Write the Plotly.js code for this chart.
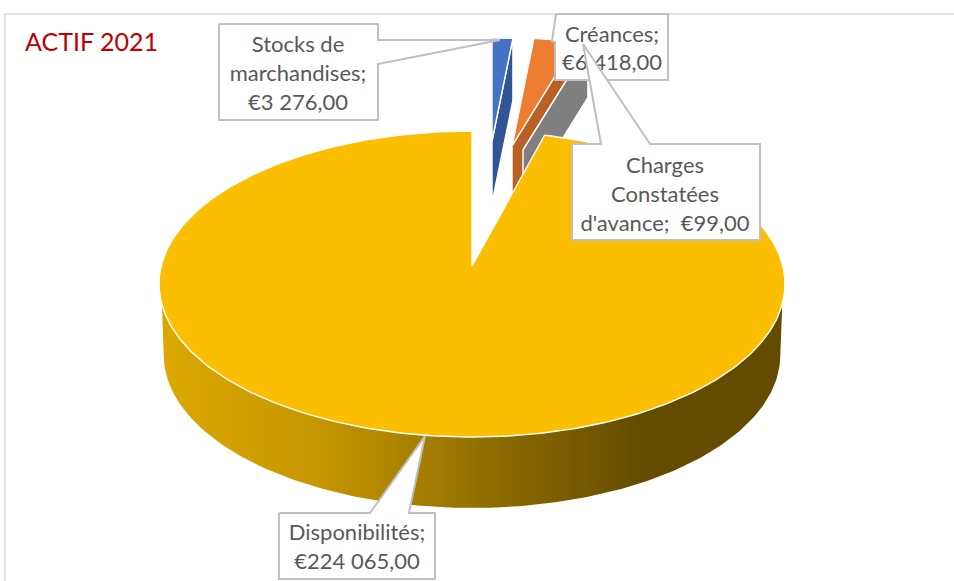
<!DOCTYPE html>
<html>
<head>
<meta charset="utf-8">
<script src="https://cdn.plot.ly/plotly-3.0.1.min.js"></script>
<style>html,body{margin:0;padding:0;background:#fff}#chart{width:954px;height:581px}</style>
</head>
<body>
<div id="chart"></div>
<script>
// ---- data ----
const chartTitle = 'ACTIF 2021';
const categories = ['Stocks de marchandises', 'Créances', "Charges Constatées d'avance", 'Disponibilités'];
const values = [3276, 6418, 99, 224065];
const labelNames = ['Stocks de<br>marchandises', 'Créances', "Charges<br>Constatées<br>d'avance", 'Disponibilités'];
const labelSeps = ['<br>', '<br>', '  ', '<br>'];

// ---- style ----
const topColors = ['#4472C4', '#ED7D31', '#A5A5A5', '#FBBE00'];
const wallColors = ['#325596', '#B96024', '#7F7F7F', '#8F6C00'];
const wallScale = [[0, '#DCA800'], [0.25, '#C69700'], [0.43, '#A37C00'], [0.55, '#8A6900'], [0.7, '#705600'], [0.77, '#634C00'], [1, '#634C00']];
const FONT = 'Lato, Carlito, Calibri, sans-serif';
const TXT = '#595959', BOX = '#BFBFBF';

// ---- 3D projection of the pie disc ----
const CX = 472, Y0 = 266, K = 0.1176, A = -119.6, R = 310.8;
const project = (u, v) => [CX + R * u / (1 + K * v), (Y0 + A * v) / (1 + K * v)];
const total = values.reduce((a, b) => a + b, 0);
const deg = v => v / total * 2 * Math.PI;
const starts = []; let acc = 0;
values.forEach(v => { starts.push(acc); acc += deg(v); });
const ends = values.map((v, i) => starts[i] + deg(v));

// exploded small slices : apex on screen, reach, thickness
const apexes = [[492, 141], [512, 146], [523, 150]];
const reaches = [103, 108, 108];
const depths = [62, 55, 52];
const ASPECT = 2.31;
const outer = (i, t) => [apexes[i][0] + reaches[i] * ASPECT * Math.sin(t), apexes[i][1] - reaches[i] * Math.cos(t)];

const traces = [];
function poly(pts, color, extra) {
  pts = pts.concat([pts[0]]);
  traces.push(Object.assign({
    type: 'scatter', mode: 'lines', x: pts.map(p => p[0]), y: pts.map(p => p[1]),
    fill: 'toself', fillcolor: color, line: { color: '#FFFFFF', width: 1.4 },
    hoverinfo: 'skip', showlegend: false
  }, extra || {}));
}

// small slices
[0, 1, 2].forEach(i => {
  const o1 = outer(i, ends[i]);
  const d = depths[i], ap = apexes[i];
  poly([ap, o1, [o1[0], o1[1] + d], [ap[0], ap[1] + d]], wallColors[i]);
  const top = [ap];
  for (let s = 0; s <= 12; s++) top.push(outer(i, starts[i] + (ends[i] - starts[i]) * s / 12));
  poly(top, topColors[i]);
});

// main slice
const rim = [];
const N = 360;
for (let s = 0; s <= N; s++) {
  const t = starts[3] + (ends[3] - starts[3]) * s / N;
  rim.push(project(Math.sin(t), Math.cos(t)));
}
const lowerTop = rim.filter(p => p[1] >= 303);
const lowerBottom = rim.filter(p => p[1] >= 284).map(p => [CX + (p[0] - CX) * 0.985, p[1] + 71]);
poly(lowerTop.concat(lowerBottom.reverse()), '#000000', {
  fillgradient: { type: 'horizontal', start: 160, stop: 785, colorscale: wallScale },
  line: { color: 'rgba(255,255,255,0)', width: 0 }
});
poly([[CX, Y0]].concat(rim), topColors[3]);

// ---- data labels ----
const money = v => '€' + String(v).replace(/\B(?=(\d{3})+$)/g, ' ') + ',00';
const labelText = values.map((v, i) => labelNames[i] + ';' + labelSeps[i] + money(v));
const callouts = [
  [[219, 24], [378, 24], [378, 40], [500, 40], [378, 64], [378, 120], [219, 120]],
  [[556, 14], [668, 14], [668, 80], [555, 80], [555, 42], [552, 41]],
  [[572, 144], [601, 144], [583, 44], [650, 144], [760, 144], [760, 240], [572, 240]],
  [[279, 513], [370, 513], [425, 436], [409, 513], [435, 513], [435, 579], [279, 579]]
];
const labelPos = [[298, 75.5], [612, 50.5], [665, 196.5], [357, 549]];
[0, 1, 2, 3].forEach(i => {
  poly(callouts[i], '#FFFFFF', { line: { color: BOX, width: 2 } });
  traces.push({
    type: 'scatter', mode: 'text', x: [labelPos[i][0]], y: [labelPos[i][1]], text: [labelText[i]],
    textposition: 'middle center', textfont: { family: FONT, size: 22, color: TXT },
    hoverinfo: 'skip', showlegend: false, cliponaxis: false
  });
});

const layout = {
  width: 954, height: 581, margin: { l: 0, r: 0, t: 0, b: 0 },
  paper_bgcolor: '#FFFFFF', plot_bgcolor: '#FFFFFF', showlegend: false,
  xaxis: { range: [0, 954], visible: false, fixedrange: true },
  yaxis: { range: [581, 0], visible: false, fixedrange: true },
  shapes: [{ type: 'path', path: 'M5,581 L5,14 L954,14', line: { color: '#D9D9D9', width: 1.5 }, layer: 'below' }],
  annotations: [{
    text: chartTitle, x: 23, y: 41, xref: 'x', yref: 'y', xanchor: 'left', yanchor: 'middle',
    showarrow: false, font: { family: FONT, size: 25, color: '#C00000' }
  }]
};
Plotly.newPlot('chart', traces, layout, { staticPlot: true, displayModeBar: false });
</script>
</body>
</html>
